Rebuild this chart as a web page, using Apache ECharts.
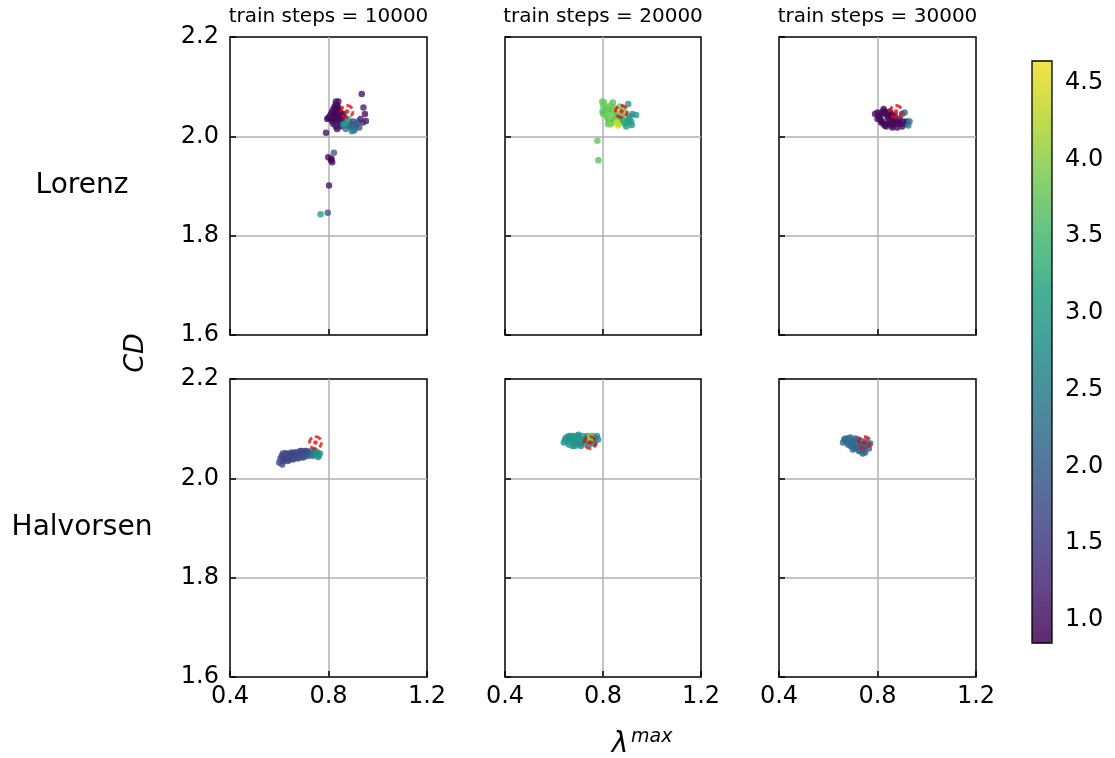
<!DOCTYPE html>
<html>
<head>
<meta charset="utf-8">
<script src="https://cdn.jsdelivr.net/npm/echarts@6/dist/echarts.min.js"></script>
<style>html,body{margin:0;padding:0;background:#fff}#c{width:1115px;height:758px}</style>
</head>
<body>
<div id="c"></div>
<script>
// ---- data: [lambda_max, CD, colour value] ----
const systems = ['Lorenz', 'Halvorsen'];
const steps = ['10000', '20000', '30000'];
const xTicks = [0.4, 0.8, 1.2];
const yTicks = [1.6, 1.8, 2.0, 2.2];
const cbarTicks = [1.0, 1.5, 2.0, 2.5, 3.0, 3.5, 4.0, 4.5];
const cRange = [0.85, 4.64];
const lorenzTarget = [0.875, 2.05];
const halvorsenTarget = [0.747, 2.072];

const lorenz10000 = [
 [0.81,2.045,0.95],[0.815,2.05,0.9],[0.82,2.055,1.0],[0.825,2.06,0.92],[0.83,2.065,1.05],[0.835,2.062,0.95],
 [0.84,2.058,0.9],[0.845,2.052,1.0],[0.85,2.046,0.95],[0.82,2.04,0.9],[0.825,2.035,0.95],[0.83,2.03,1.0],
 [0.835,2.04,0.9],[0.84,2.045,0.95],[0.845,2.04,1.1],[0.85,2.035,0.92],[0.855,2.04,1.0],[0.86,2.045,0.95],
 [0.81,2.035,0.9],[0.805,2.04,1.0],[0.8,2.038,1.05],[0.795,2.035,0.95],[0.83,2.05,0.9],[0.835,2.055,0.92],
 [0.84,2.035,0.95],[0.845,2.025,1.0],[0.85,2.02,1.1],[0.855,2.028,1.0],[0.86,2.032,0.95],[0.825,2.045,0.9],
 [0.815,2.03,0.95],[0.82,2.025,1.0],[0.83,2.02,1.1],[0.835,2.015,1.0],[0.79,2.007,1.0],[0.83,2.07,1.1],
 [0.84,2.07,1.0],[0.865,2.038,1.2],[0.87,2.03,1.3],
 [0.86,2.025,2.9],[0.87,2.022,3.1],[0.875,2.03,2.6],[0.88,2.028,3.0],[0.885,2.02,2.2],[0.89,2.025,2.5],
 [0.895,2.018,2.0],[0.9,2.015,2.3],[0.905,2.012,2.1],[0.91,2.02,2.4],[0.915,2.025,1.8],[0.92,2.03,2.2],
 [0.88,2.035,3.2],[0.895,2.01,2.6],[0.87,2.015,2.4],[0.925,2.018,1.9],[0.9,2.03,1.6],
 [0.935,2.085,1.1],[0.942,2.058,1.2],[0.948,2.045,1.0],[0.952,2.031,1.1],[0.94,2.028,1.3],[0.93,2.035,1.2],
 [0.822,1.967,2.0],[0.799,1.958,1.0],[0.81,1.952,0.95],[0.815,1.948,1.0],[0.812,1.955,0.9],[0.802,1.901,1.1],
 [0.797,1.846,1.9],[0.768,1.843,3.0]
];
const lorenz20000 = [
 [0.8,2.062,3.7],[0.805,2.068,3.8],[0.81,2.06,3.9],[0.815,2.055,3.6],[0.82,2.05,3.7],[0.825,2.058,3.8],
 [0.83,2.062,3.9],[0.835,2.055,3.7],[0.84,2.05,3.6],[0.845,2.058,3.8],[0.85,2.052,4.0],[0.855,2.045,3.7],
 [0.86,2.04,3.6],[0.865,2.035,3.8],[0.87,2.03,3.7],[0.81,2.045,3.8],[0.815,2.04,3.9],[0.82,2.035,3.6],
 [0.825,2.03,3.7],[0.83,2.04,3.8],[0.835,2.035,4.0],[0.84,2.028,3.6],[0.845,2.032,3.5],[0.85,2.038,3.7],
 [0.8,2.045,3.8],[0.798,2.05,3.6],[0.82,2.025,3.7],[0.83,2.024,3.9],[0.855,2.028,4.4],[0.86,2.022,4.5],
 [0.865,2.025,4.2],[0.875,2.04,3.5],[0.88,2.035,3.4],[0.885,2.03,3.3],[0.89,2.025,3.2],[0.895,2.02,3.0],
 [0.9,2.03,3.1],[0.905,2.035,2.9],[0.91,2.04,3.0],[0.92,2.045,2.8],[0.915,2.03,3.0],[0.903,2.065,2.9],
 [0.935,2.043,2.9],[0.917,2.023,2.8],[0.89,2.048,3.6],[0.88,2.055,3.8],[0.87,2.06,3.7],[0.84,2.068,3.6],
 [0.797,2.07,3.7],[0.777,1.991,3.7],[0.781,1.952,3.6]
];
const lorenz30000 = [
 [0.79,2.045,1.0],[0.8,2.048,0.95],[0.805,2.04,0.9],[0.81,2.035,0.92],[0.815,2.045,0.95],[0.82,2.05,1.0],
 [0.825,2.055,0.9],[0.83,2.05,0.95],[0.835,2.045,0.92],[0.84,2.04,0.9],[0.845,2.035,0.95],[0.85,2.03,1.0],
 [0.855,2.025,0.92],[0.86,2.022,0.9],[0.865,2.028,0.95],[0.87,2.032,1.0],[0.875,2.03,0.9],[0.88,2.025,0.95],
 [0.885,2.028,1.0],[0.89,2.035,0.92],[0.82,2.03,0.95],[0.825,2.025,0.9],[0.83,2.022,1.0],[0.835,2.02,0.95],
 [0.84,2.025,0.9],[0.845,2.045,0.95],[0.85,2.05,1.0],[0.815,2.028,0.92],[0.81,2.04,0.95],[0.8,2.035,1.0],
 [0.86,2.04,0.9],[0.855,2.045,0.95],[0.87,2.042,1.0],[0.895,2.025,0.95],[0.9,2.02,1.0],[0.905,2.03,0.92],
 [0.91,2.025,1.1],[0.92,2.03,1.0],[0.9,2.045,2.0],[0.91,2.048,2.2],[0.93,2.03,2.4],[0.925,2.022,2.3],
 [0.86,2.018,0.95],[0.88,2.018,1.0]
];
const halvorsen10000 = [
 [0.6,2.032,1.6],[0.605,2.04,1.7],[0.61,2.045,1.6],[0.612,2.028,1.7],[0.618,2.035,1.6],[0.62,2.045,1.7],
 [0.625,2.05,1.6],[0.63,2.04,1.7],[0.635,2.035,1.6],[0.64,2.045,1.7],[0.645,2.05,1.6],[0.65,2.042,1.7],
 [0.655,2.038,1.6],[0.66,2.048,1.7],[0.665,2.052,1.6],[0.67,2.045,1.7],[0.675,2.04,1.8],[0.68,2.05,1.6],
 [0.685,2.055,1.7],[0.69,2.048,1.7],[0.695,2.042,1.8],[0.7,2.05,1.7],[0.705,2.055,1.6],[0.71,2.048,1.8],
 [0.715,2.045,1.9],[0.72,2.052,1.8],[0.725,2.048,2.0],[0.73,2.055,2.1],[0.735,2.045,2.2],[0.74,2.05,2.3],
 [0.745,2.055,2.5],[0.75,2.048,2.6],[0.755,2.052,2.7],[0.76,2.045,2.8],[0.765,2.05,2.6],[0.758,2.043,2.9],
 [0.62,2.038,1.6],[0.63,2.05,1.7],[0.64,2.038,1.6],[0.66,2.04,1.7],[0.67,2.052,1.7],[0.69,2.055,1.6],
 [0.71,2.055,1.7],[0.615,2.05,1.7],[0.65,2.052,1.6],[0.68,2.042,1.7],[0.7,2.043,1.8]
];
const halvorsen20000 = [
 [0.64,2.072,2.8],[0.645,2.078,2.7],[0.65,2.082,2.8],[0.655,2.075,2.9],[0.66,2.068,2.8],[0.665,2.08,2.7],
 [0.67,2.085,2.8],[0.675,2.078,2.9],[0.68,2.072,2.8],[0.685,2.065,2.7],[0.69,2.08,2.8],[0.695,2.085,2.9],
 [0.7,2.075,2.8],[0.705,2.068,2.7],[0.71,2.078,2.8],[0.715,2.085,2.9],[0.72,2.075,2.8],[0.725,2.07,2.7],
 [0.73,2.08,2.8],[0.735,2.085,2.6],[0.74,2.076,2.7],[0.745,2.068,2.5],[0.75,2.078,2.6],[0.755,2.085,2.5],
 [0.76,2.075,2.7],[0.765,2.07,2.6],[0.77,2.08,2.5],[0.775,2.085,2.6],[0.78,2.078,2.7],[0.66,2.085,2.8],
 [0.68,2.085,2.9],[0.7,2.088,2.8],[0.69,2.07,2.8],[0.71,2.065,2.7],[0.75,2.085,3.9],[0.748,2.08,4.0],
 [0.675,2.065,2.9]
];
const halvorsen30000 = [
 [0.66,2.072,2.2],[0.665,2.078,2.1],[0.67,2.08,2.2],[0.675,2.073,2.0],[0.68,2.068,2.1],[0.685,2.078,2.2],
 [0.69,2.082,2.1],[0.695,2.072,2.0],[0.7,2.065,2.1],[0.705,2.075,2.2],[0.71,2.08,2.0],[0.715,2.07,2.1],
 [0.72,2.062,2.2],[0.725,2.055,2.0],[0.73,2.068,2.1],[0.735,2.075,2.3],[0.74,2.068,2.0],[0.745,2.058,2.1],
 [0.75,2.065,2.2],[0.755,2.075,2.0],[0.76,2.068,2.1],[0.765,2.06,2.0],[0.77,2.07,2.2],[0.7,2.058,2.1],
 [0.71,2.06,2.0],[0.72,2.078,2.1],[0.73,2.055,2.2],[0.74,2.05,2.0],[0.75,2.052,2.1],[0.69,2.065,2.2],
 [0.68,2.08,2.3]
];

const panels = [lorenz10000, lorenz20000, lorenz30000, halvorsen10000, halvorsen20000, halvorsen30000];
const targets = [lorenzTarget, lorenzTarget, lorenzTarget, halvorsenTarget, halvorsenTarget, halvorsenTarget];
const viridis = ['#440154','#482475','#414487','#355f8d','#2a788e','#21918c','#22a884','#44bf70','#7ad151','#bddf26','#fde725'];

// ---- layout ----
const FONT = 'DejaVu Sans';
const colLeft = [230, 505, 779], colWidth = [197, 196, 197];
const rowTop = [37, 379], rowHeight = 298;

const grids = [], xAxes = [], yAxes = [], series = [];
for (let i = 0; i < 6; i++) {
  const r = Math.floor(i / 3), c = i % 3;
  grids.push({left: colLeft[c], top: rowTop[r], width: colWidth[c], height: rowHeight,
    show: true, borderColor: '#000', borderWidth: 1.5, backgroundColor: 'transparent', containLabel: false});
  xAxes.push({type: 'value', gridIndex: i, min: xTicks[0], max: xTicks[xTicks.length-1], interval: 0.4,
    axisLine: {show: false},
    axisTick: {show: true, inside: true, length: 6, lineStyle: {color: '#000', width: 1.5}},
    axisLabel: {show: r === 1, fontSize: 24, fontFamily: FONT, color: '#000', margin: 8,
      formatter: v => v.toFixed(1)},
    splitLine: {show: true, showMinLine: false, showMaxLine: false, lineStyle: {color: '#b0b0b0', width: 1.5}}});
  yAxes.push({type: 'value', gridIndex: i, min: yTicks[0], max: yTicks[yTicks.length-1], interval: 0.2,
    axisLine: {show: false},
    axisTick: {show: true, inside: true, length: 6, lineStyle: {color: '#000', width: 1.5}},
    axisLabel: {show: c === 0, fontSize: 24, fontFamily: FONT, color: '#000', margin: 11,
      formatter: v => v.toFixed(1)},
    splitLine: {show: true, showMinLine: false, showMaxLine: false, lineStyle: {color: '#b0b0b0', width: 1.5}}});
}
for (let i = 0; i < 6; i++) {
  series.push({type: 'scatter', xAxisIndex: i, yAxisIndex: i, data: panels[i], symbolSize: 6.5,
    itemStyle: {opacity: 1}, silent: true, z: 2});
}
for (let i = 0; i < 6; i++) {
  series.push({type: 'scatter', xAxisIndex: i, yAxisIndex: i, data: [targets[i]], symbolSize: 12,
    itemStyle: {color: 'rgba(0,0,0,0)', borderColor: '#ff0000', borderWidth: 2.8, borderType: [6.5, 3], borderDashOffset: 1.5},
    silent: true, z: 3});
  series.push({type: 'scatter', xAxisIndex: i, yAxisIndex: i, data: [targets[i]], symbolSize: 4.5,
    itemStyle: {color: '#ff0000'}, silent: true, z: 3});
}

// colourbar axis frame
grids.push({left: 1032, top: 61, width: 20, height: 582, show: true, borderColor: '#000', borderWidth: 1.3,
  backgroundColor: 'transparent', z: 10});
xAxes.push({type: 'value', gridIndex: 6, min: 0, max: 1, show: false});
yAxes.push({type: 'value', gridIndex: 6, min: cRange[0], max: cRange[1], position: 'right',
  axisLine: {show: false}, splitLine: {show: false},
  axisTick: {show: true, length: 5, customValues: cbarTicks, lineStyle: {color: '#000', width: 1.3}},
  axisLabel: {fontSize: 24, fontFamily: FONT, color: '#000', margin: 13, customValues: cbarTicks,
    formatter: v => v.toFixed(1)}});

const graphics = [];
steps.forEach((s, c) => {
  graphics.push({type: 'text', x: colLeft[c] + colWidth[c] / 2, y: 17,
    style: {text: 'train steps = ' + s, font: '20px "DejaVu Sans"', fill: '#000', textAlign: 'center', textVerticalAlign: 'middle'}});
});
graphics.push({type: 'text', x: 82, y: 186, style: {text: systems[0], font: '28px "DejaVu Sans"', fill: '#000', textAlign: 'center', textVerticalAlign: 'middle'}});
graphics.push({type: 'text', x: 82, y: 528, style: {text: systems[1], font: '28px "DejaVu Sans"', fill: '#000', textAlign: 'center', textVerticalAlign: 'middle'}});
graphics.push({type: 'text', x: 136, y: 353, rotation: Math.PI / 2,
  style: {text: 'CD', font: 'italic 27px "DejaVu Sans"', fill: '#000', textAlign: 'center', textVerticalAlign: 'middle'}});
graphics.push({type: 'text', x: 620, y: 745, style: {text: 'λ', font: 'italic 28px "DejaVu Sans"', fill: '#000', textAlign: 'center', textVerticalAlign: 'middle'}});
graphics.push({type: 'text', x: 631, y: 737, style: {text: 'max', font: 'italic 19px "DejaVu Sans"', fill: '#000', textAlign: 'left', textVerticalAlign: 'middle'}});

const chart = echarts.init(document.getElementById('c'), null, {renderer: 'canvas'});
chart.setOption({
  animation: false,
  backgroundColor: '#fff',
  textStyle: {fontFamily: FONT},
  grid: grids, xAxis: xAxes, yAxis: yAxes, series: series,
  visualMap: {type: 'continuous', min: cRange[0], max: cRange[1], dimension: 2,
    seriesIndex: [0, 1, 2, 3, 4, 5], calculable: false, realtime: false,
    left: 1032, top: 61, padding: 0, itemWidth: 20, itemHeight: 582, text: null, showLabel: false,
    inRange: {color: viridis, colorAlpha: 0.8}, z: 1},
  graphic: graphics
});
</script>
</body>
</html>
